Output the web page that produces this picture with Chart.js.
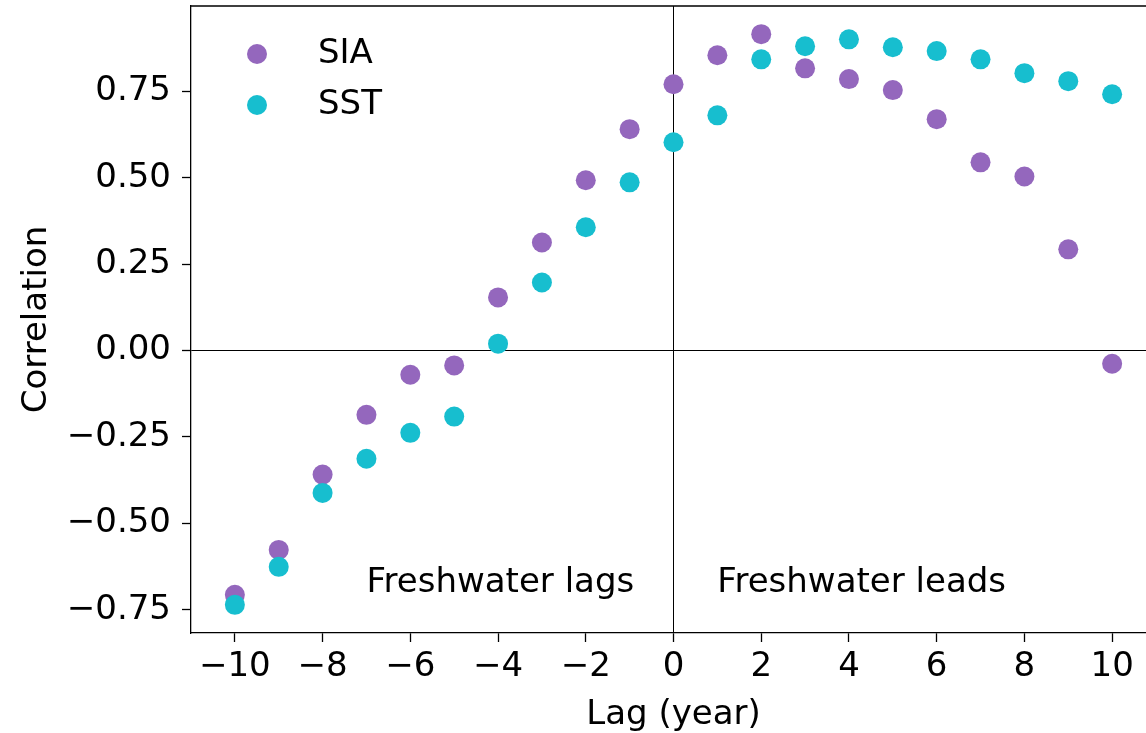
<!DOCTYPE html>
<html>
<head>
<meta charset="utf-8">
<script src="https://cdn.jsdelivr.net/npm/chart.js@4.4.1/dist/chart.umd.min.js"></script>
<style>
  html, body { margin: 0; padding: 0; background: #fff; overflow: hidden; }
  #wrap { width: 1146px; height: 733px; overflow: hidden; }
</style>
</head>
<body>
<div id="wrap"><canvas id="chart" width="1160" height="733"></canvas></div>
<script>
// lag in years, correlation values
const lags = [-10, -9, -8, -7, -6, -5, -4, -3, -2, -1, 0, 1, 2, 3, 4, 5, 6, 7, 8, 9, 10];
const siaCorr = [-0.707, -0.577, -0.359, -0.186, -0.070, -0.043, 0.154, 0.313, 0.493, 0.641, 0.771,
                 0.855, 0.916, 0.817, 0.786, 0.754, 0.670, 0.545, 0.504, 0.293, -0.038];
const sstCorr = [-0.736, -0.626, -0.412, -0.313, -0.238, -0.191, 0.020, 0.197, 0.357, 0.487, 0.603,
                 0.681, 0.843, 0.881, 0.901, 0.878, 0.867, 0.843, 0.803, 0.780, 0.742];
const xTicks = [-10, -8, -6, -4, -2, 0, 2, 4, 6, 8, 10];
const yTicks = [-0.75, -0.5, -0.25, 0, 0.25, 0.5, 0.75];
const notes = [
    { text: 'Freshwater lags', x: -7, y: -0.7 },
    { text: 'Freshwater leads', x: 1, y: -0.7 }
];

const FONT = 'DejaVu Sans';
const fontSize = 34;
const minus = s => s.replace('-', '\u2212');

function toPoints(ys) {
    return lags.map((x, i) => ({ x: x, y: ys[i] }));
}

const zeroLine = ctx => (ctx.tick && ctx.tick.value === 0) ? '#000' : 'rgba(0,0,0,0)';

// drop the label overhang padding so the plot box matches the figure
function noOverhang(s) {
    s.paddingTop = 0;
    s.paddingBottom = 0;
    s.paddingLeft = 0;
    s.paddingRight = 0;
}

// frame (top spine), text notes and legend drawn on the canvas
const extras = {
    id: 'extras',
    afterDraw(chart) {
        const { ctx, chartArea, scales } = chart;
        ctx.save();
        ctx.strokeStyle = '#000';
        ctx.lineWidth = 1.3;
        ctx.beginPath();
        ctx.moveTo(chartArea.left, chartArea.top);
        ctx.lineTo(chartArea.right, chartArea.top);
        ctx.lineTo(chartArea.right, chartArea.bottom);
        ctx.stroke();

        ctx.fillStyle = '#000';
        ctx.font = fontSize + 'px "' + FONT + '"';
        ctx.textBaseline = 'alphabetic';
        ctx.textAlign = 'left';
        notes.forEach(n => {
            ctx.fillText(n.text, scales.x.getPixelForValue(n.x), scales.y.getPixelForValue(n.y));
        });

        chart.data.datasets.forEach((ds, i) => {
            const cy = chartArea.top + 48 + 51 * i;
            ctx.fillStyle = ds.backgroundColor;
            ctx.beginPath();
            ctx.arc(chartArea.left + 66, cy, 10, 0, Math.PI * 2);
            ctx.fill();
            ctx.fillStyle = '#000';
            ctx.fillText(ds.label, chartArea.left + 127, chartArea.top + 57 + 51 * i);
        });
        ctx.restore();
    }
};

new Chart(document.getElementById('chart'), {
    type: 'scatter',
    data: {
        datasets: [
            {
                label: 'SIA',
                data: toPoints(siaCorr),
                backgroundColor: '#9467bd',
                borderColor: '#9467bd',
                borderWidth: 0,
                pointRadius: 10,
                order: 2
            },
            {
                label: 'SST',
                data: toPoints(sstCorr),
                backgroundColor: '#17becf',
                borderColor: '#17becf',
                borderWidth: 0,
                pointRadius: 10,
                order: 1
            }
        ]
    },
    options: {
        responsive: false,
        animation: false,
        layout: { autoPadding: false, padding: { top: 6, right: 4, left: 0, bottom: 0 } },
        plugins: {
            legend: { display: false },
            tooltip: { enabled: false }
        },
        scales: {
            x: {
                type: 'linear',
                min: -11,
                max: 11,
                afterBuildTicks: s => { s.ticks = xTicks.map(v => ({ value: v })); },
                afterFit: s => { s.height = 100; noOverhang(s); },
                ticks: {
                    autoSkip: false,
                    maxRotation: 0,
                    color: '#000',
                    padding: 5,
                    font: { family: FONT, size: fontSize },
                    callback: v => minus(String(v))
                },
                grid: { color: zeroLine, lineWidth: 1, tickColor: '#000', tickLength: 9, tickWidth: 1.3 },
                border: { color: '#000', width: 1.3 },
                title: {
                    display: true,
                    text: 'Lag (year)',
                    color: '#000',
                    font: { family: FONT, size: fontSize },
                    padding: { top: 0, bottom: -3 }
                }
            },
            y: {
                min: -0.8175,
                max: 0.9975,
                afterBuildTicks: s => { s.ticks = yTicks.map(v => ({ value: v })); },
                afterFit: s => { s.width = 191; noOverhang(s); },
                ticks: {
                    color: '#000',
                    padding: 11,
                    font: { family: FONT, size: fontSize },
                    callback: v => minus(v.toFixed(2))
                },
                grid: { color: zeroLine, lineWidth: 1, tickColor: '#000', tickLength: 9, tickWidth: 1.3 },
                border: { color: '#000', width: 1.3 },
                title: {
                    display: true,
                    text: 'Correlation',
                    color: '#000',
                    font: { family: FONT, size: fontSize },
                    padding: { top: 17, bottom: 0 }
                }
            }
        }
    },
    plugins: [extras]
});
</script>
</body>
</html>
